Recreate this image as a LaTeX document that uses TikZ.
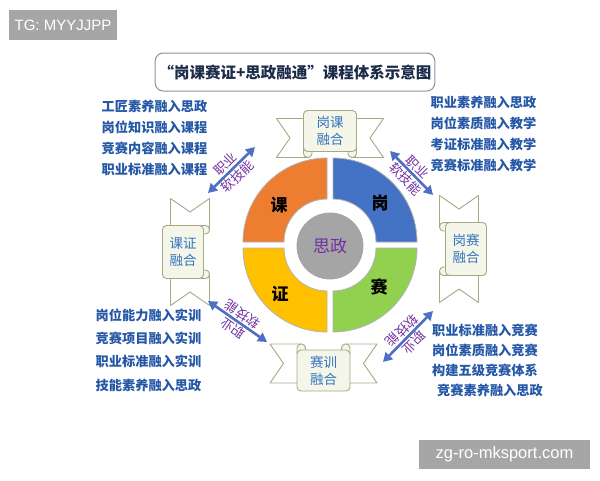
\documentclass[tikz,border=0pt]{standalone}
\usepackage{fontspec}
\newfontfamily\cjk{Noto Sans CJK SC}
\newfontfamily\wmfont{Liberation Sans}
\usepackage{xcolor}
\usepackage{tikz}
\usetikzlibrary{arrows.meta,calc,positioning}

\definecolor{qorange}{HTML}{ED7D31}
\definecolor{qblue}{HTML}{4472C4}
\definecolor{qgreen}{HTML}{92D050}
\definecolor{qyellow}{HTML}{FFC000}
\definecolor{qgray}{HTML}{A5A5A5}
\definecolor{infoblue}{HTML}{2557A7}
\definecolor{ribblue}{HTML}{3574BE}
\definecolor{ribline}{HTML}{A3AA84}
\definecolor{ribfill}{HTML}{F4F6EA}
\definecolor{skillpurple}{HTML}{7030A0}
\definecolor{arrowblue}{HTML}{4F6FC5}
\definecolor{titleline}{HTML}{8A93A6}
\definecolor{titleink}{HTML}{1B2B48}
\definecolor{wmgray}{HTML}{A6A6A6}

\begin{document}
\begin{tikzpicture}[x=1pt,y=-1pt]

\tikzset{
  quad/.style={draw=white!70!black, line width=0.8pt},
  qchar/.style={font=\cjk\fontsize{17}{17}\selectfont\bfseries, text=black},
  infotext/.style={font=\cjk\fontsize{13.2}{#1}\selectfont\bfseries, text=infoblue, align=left, inner sep=0pt},
  ribtail/.style={draw=ribline, fill=white, line width=0.9pt, line join=round},
  ribbox/.style={draw=ribline, fill=ribfill, line width=0.9pt, rounded corners=4pt},
  ribtext/.style={font=\cjk\fontsize{13.5}{17}\selectfont, text=ribblue, align=center, inner sep=0pt},
  skillarrow/.style={draw=arrowblue, line width=2.6pt, {Triangle[length=9pt,width=10pt]}-{Triangle[length=9pt,width=10pt]}},
  skilltext/.style={font=\cjk\fontsize{13}{17}\selectfont, text=skillpurple, align=center, inner sep=0pt},
  wmbox/.style={fill=wmgray, text=white, inner sep=0pt}
}

\fill[white] (0,0) rectangle (600,480);
\useasboundingbox (0,0) rectangle (600,480);

% watermarks
\node[wmbox, minimum width=108pt, minimum height=30pt, font=\wmfont\fontsize{15}{15}\selectfont] (wmtop) at (63,25) {TG: MYYJJPP};
\node[wmbox, minimum width=171pt, minimum height=29pt, font=\wmfont\fontsize{16.5}{16.5}\selectfont] (wmbot) at (504.5,454.5) {zg-ro-mksport.com};

% title
\node[draw=titleline, line width=1pt, rounded corners=8pt, fill=white, minimum width=266pt, minimum height=38pt,
  font=\cjk\fontsize{15.5}{15.5}\selectfont\bfseries, text=titleink] (title) at (295,72) {“岗课赛证+思政融通”课程体系示意图};

% wheel
\draw[quad, fill=qblue, shift={(333,242)}] (0:43) -- (0:84) arc[start angle=0, end angle=-90, radius=84] -- (-90:43) arc[start angle=-90, end angle=0, radius=43] -- cycle;
\draw[quad, fill=qorange, shift={(327,242)}] (-90:43) -- (-90:84) arc[start angle=-90, end angle=-180, radius=84] -- (-180:43) arc[start angle=-180, end angle=-90, radius=43] -- cycle;
\draw[quad, fill=qyellow, shift={(327,248)}] (180:43) -- (180:84) arc[start angle=180, end angle=90, radius=84] -- (90:43) arc[start angle=90, end angle=180, radius=43] -- cycle;
\draw[quad, fill=qgreen, shift={(333,248)}] (90:43) -- (90:84) arc[start angle=90, end angle=0, radius=84] -- (0:43) arc[start angle=0, end angle=90, radius=43] -- cycle;
\draw[draw=white!65!black, line width=0.8pt, fill=qgray] (330,246) circle[radius=33];

\node[qchar] (ke) at (279,205) {课};
\node[qchar] (gang) at (380,203) {岗};
\node[qchar] (zheng) at (280,294) {证};
\node[qchar] (sai) at (379,287) {赛};
\node[font=\cjk\fontsize{17}{17}\selectfont, text=skillpurple] (sz) at (330,246) {思政};

% ribbons
\begin{scope}[shift={(330,131)}, rotate=180]
\draw[ribtail] (-53.5,-26.5) -- (-40,-7) -- (-53.5,12.5) -- (-22,12.5) -- (-22,-26.5) -- cycle;
\draw[ribtail] (53.5,-26.5) -- (40,-7) -- (53.5,12.5) -- (22,12.5) -- (22,-26.5) -- cycle;
\draw[ribbox] (-26.5,-26.5) rectangle (-18,-14);
\draw[ribbox] (18,-26.5) rectangle (26.5,-14);
\draw[ribbox] (-26.5,-20.5) rectangle (26.5,20.5);
\node[ribtext] (gkrh) at (0,0) {岗课\\融合};
\end{scope}

\begin{scope}[shift={(466,249)}, rotate=90]
\draw[ribtail] (-53.5,-26.5) -- (-40,-7) -- (-53.5,12.5) -- (-22,12.5) -- (-22,-26.5) -- cycle;
\draw[ribtail] (53.5,-26.5) -- (40,-7) -- (53.5,12.5) -- (22,12.5) -- (22,-26.5) -- cycle;
\draw[ribbox] (-26.5,-26.5) rectangle (-18,-14);
\draw[ribbox] (18,-26.5) rectangle (26.5,-14);
\draw[ribbox] (-26.5,-20.5) rectangle (26.5,20.5);
\node[ribtext] (gsrh) at (0,0) {岗赛\\融合};
\end{scope}

\begin{scope}[shift={(323.5,370.5)}]
\draw[ribtail] (-53.5,-26.5) -- (-40,-7) -- (-53.5,12.5) -- (-22,12.5) -- (-22,-26.5) -- cycle;
\draw[ribtail] (53.5,-26.5) -- (40,-7) -- (53.5,12.5) -- (22,12.5) -- (22,-26.5) -- cycle;
\draw[ribbox] (-26.5,-26.5) rectangle (-18,-14);
\draw[ribbox] (18,-26.5) rectangle (26.5,-14);
\draw[ribbox] (-26.5,-20.5) rectangle (26.5,20.5);
\node[ribtext] (sxrh) at (0,0) {赛训\\融合};
\end{scope}

\begin{scope}[shift={(183,252)}, rotate=-90]
\draw[ribtail] (-53.5,-26.5) -- (-40,-7) -- (-53.5,12.5) -- (-22,12.5) -- (-22,-26.5) -- cycle;
\draw[ribtail] (53.5,-26.5) -- (40,-7) -- (53.5,12.5) -- (22,12.5) -- (22,-26.5) -- cycle;
\draw[ribbox] (-26.5,-26.5) rectangle (-18,-14);
\draw[ribbox] (18,-26.5) rectangle (26.5,-14);
\draw[ribbox] (-26.5,-20.5) rectangle (26.5,20.5);
\node[ribtext] (kzrh) at (0,0) {课证\\融合};
\end{scope}

% skill arrows
\coordinate (tla) at (208,193);
\coordinate (tlb) at (255,147);
\coordinate (tra) at (390,151);
\coordinate (trb) at (433,195);
\coordinate (bla) at (208,301);
\coordinate (blb) at (267,342);
\coordinate (bra) at (383,362);
\coordinate (brb) at (433,311);
\draw[skillarrow] (tla) -- (tlb) node[skilltext, midway, rotate=44] (tls) {职业\\软技能};
\draw[skillarrow] (tra) -- (trb) node[skilltext, midway, rotate=-45] (trs) {职业\\软技能};
\draw[skillarrow] (bla) -- (blb) node[skilltext, midway, rotate=145] (bls) {职业\\软技能};
\draw[skillarrow] (bra) -- (brb) node[skilltext, midway, rotate=225] (brs) {职业\\软技能};

% text blocks
\node[infotext=21] (tltext) at (154.5,138) {工匠素养融入思政\\岗位知识融入课程\\竞赛内容融入课程\\职业标准融入课程};
\node[infotext=21] (trtext) at (483.5,133.5) {职业素养融入思政\\岗位素质融入教学\\考证标准融入教学\\竞赛标准融入教学};
\node[infotext=23.3] (bltext) at (148.5,350) {岗位能力融入实训\\竞赛项目融入实训\\职业标准融入实训\\技能素养融入思政};
\node[infotext=20] (brtext) at (487.5,360.5) {职业标准融入竞赛\\岗位素质融入竞赛\\构建五级竞赛体系\\\hspace*{5pt}竞赛素养融入思政};

\end{tikzpicture}
\end{document}
